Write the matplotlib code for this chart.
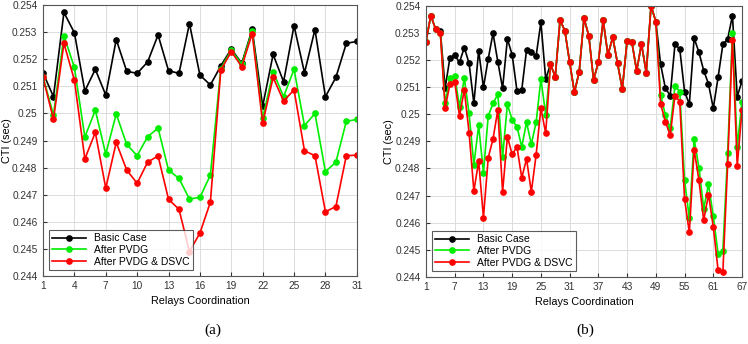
import matplotlib
matplotlib.use("Agg")
import matplotlib.pyplot as plt

# ---- Data (a): 31 relay pairs ----
xa = list(range(1, 32))
basic_a = [0.2515, 0.25062, 0.25373, 0.25298, 0.25083, 0.25163, 0.25068, 0.25273, 0.25156, 0.25148,
           0.2519, 0.2529, 0.25158, 0.25148, 0.25332, 0.25142, 0.25105, 0.25176, 0.25238, 0.25185,
           0.25311, 0.25027, 0.25218, 0.25117, 0.25324, 0.2515, 0.2531, 0.25062, 0.25133, 0.25259, 0.25266]
pvdg_a = [0.25136, 0.24994, 0.25287, 0.2517, 0.24913, 0.25012, 0.2485, 0.24998, 0.24886, 0.24844,
          0.24914, 0.24946, 0.24791, 0.2476, 0.24684, 0.2469, 0.24772, 0.25166, 0.25234, 0.25181,
          0.25305, 0.24982, 0.25154, 0.25062, 0.25163, 0.24955, 0.25, 0.24785, 0.2482, 0.24971, 0.24978]
dsvc_a = [0.25133, 0.24978, 0.25259, 0.25123, 0.24832, 0.2493, 0.24724, 0.24893, 0.24791, 0.24742,
          0.2482, 0.24843, 0.24683, 0.24646, 0.2449, 0.24558, 0.24672, 0.2516, 0.25228, 0.25173,
          0.25295, 0.24964, 0.25133, 0.25046, 0.25087, 0.24862, 0.24844, 0.24637, 0.24656, 0.24844, 0.24846]

# ---- Data (b): 67 relay pairs ----
xb = list(range(1, 68))
common_27_49 = [0.25184, 0.25139, 0.25348, 0.25308, 0.25192, 0.25081, 0.25157, 0.25354, 0.2529, 0.25127,
                0.25192, 0.25346, 0.25219, 0.25284, 0.25188, 0.25093, 0.25271, 0.25266, 0.2516, 0.2526,
                0.25154, 0.254, 0.25342]
basic_b = ([0.25268, 0.25364, 0.25315, 0.25308, 0.25096, 0.25209, 0.25217, 0.25192, 0.25246, 0.25188,
            0.2504, 0.25235, 0.25099, 0.25205, 0.25299, 0.25194, 0.25096, 0.25278, 0.25219, 0.25087,
            0.2509, 0.25237, 0.25229, 0.25215, 0.2534, 0.2513]
           + common_27_49 +
           [0.25184, 0.25096, 0.25069, 0.25258, 0.25241, 0.25084, 0.25037, 0.25281, 0.25229, 0.25161,
            0.25112, 0.25022, 0.25136, 0.25258, 0.25277, 0.25364, 0.25065, 0.25123])
pvdg_b = ([0.25268, 0.25364, 0.25315, 0.25299, 0.2504, 0.25135, 0.25141, 0.25028, 0.25133, 0.25003,
           0.24813, 0.24959, 0.24784, 0.24994, 0.2504, 0.25074, 0.24843, 0.25037, 0.24979, 0.24954,
           0.2488, 0.2497, 0.2489, 0.2497, 0.2513, 0.24999]
          + common_27_49 +
          [0.25071, 0.24997, 0.24948, 0.25104, 0.25084, 0.24757, 0.24616, 0.24909, 0.24803, 0.24652,
           0.24741, 0.24624, 0.24486, 0.24496, 0.24858, 0.25299, 0.2488, 0.25047])
dsvc_b = ([0.25268, 0.25364, 0.25315, 0.25299, 0.25022, 0.25112, 0.2512, 0.24994, 0.2509, 0.24932,
           0.24717, 0.24827, 0.24619, 0.2484, 0.24909, 0.25016, 0.24714, 0.24917, 0.24852, 0.2488,
           0.24766, 0.24835, 0.24714, 0.2485, 0.25022, 0.2493]
          + common_27_49 +
          [0.25038, 0.24973, 0.24923, 0.25069, 0.25047, 0.24687, 0.24564, 0.2487, 0.24757, 0.24609,
           0.24704, 0.24585, 0.24425, 0.24418, 0.24816, 0.25274, 0.24809, 0.25016])

series_names = ["Basic Case", "After PVDG", "After PVDG & DSVC"]
series_colors = ["#000000", "#00ee00", "#ff0000"]
yticks = [0.244, 0.245, 0.246, 0.247, 0.248, 0.249, 0.25, 0.251, 0.252, 0.253, 0.254]
ytick_labels = ["0.244", "0.245", "0.246", "0.247", "0.248", "0.249", "0.25", "0.251", "0.252", "0.253", "0.254"]
xticks_a = list(range(1, 32, 3))
xticks_b = list(range(1, 68, 6))

plt.rcParams['font.family'] = ['Liberation Sans', 'DejaVu Sans']

fig = plt.figure(figsize=(7.48, 3.44), dpi=100)
ax1 = fig.add_axes([0.0575, 0.198, 0.4195, 0.787])
ax2 = fig.add_axes([0.5695, 0.195, 0.4225, 0.788])

def draw(ax, x, data, xticks, xmax):
    for vals, name, col in zip(data, series_names, series_colors):
        ax.plot(x, vals, '-o', color=col, lw=1.2, ms=3.8, label=name)
    ax.set_xlim(1, xmax)
    ax.set_ylim(0.244, 0.254)
    ax.set_xticks(xticks)
    ax.set_yticks(yticks)
    ax.set_yticklabels(ytick_labels)
    ax.grid(True, color="#dddddd", lw=0.7)
    ax.set_axisbelow(True)
    ax.tick_params(direction='in', labelsize=7.3, colors="#333333", length=3, pad=4)
    for s in ax.spines.values():
        s.set_color("#555555")
        s.set_linewidth(0.8)
    ax.set_xlabel("Relays Coordination", fontsize=7.8, labelpad=3)
    ax.set_ylabel("CTI (sec)", fontsize=7.8)
    ax.yaxis.set_label_coords(-0.1, 0.5)
    leg = ax.legend(loc='lower left', fontsize=7.5, frameon=True, fancybox=False,
                    edgecolor="#333333", borderpad=0.3, labelspacing=0.15,
                    handlelength=3.2, borderaxespad=0.6)
    leg.get_frame().set_linewidth(0.8)

draw(ax1, xa, [basic_a, pvdg_a, dsvc_a], xticks_a, 31)
draw(ax2, xb, [basic_b, pvdg_b, dsvc_b], xticks_b, 67)

fig.text(213/748, 1 - 330/344, "(a)", ha='center', va='center', fontsize=11,
         family=['Liberation Serif', 'DejaVu Serif'])
fig.text(585/748, 1 - 330/344, "(b)", ha='center', va='center', fontsize=11,
         family=['Liberation Serif', 'DejaVu Serif'])

fig.savefig("out.png", dpi=100)
